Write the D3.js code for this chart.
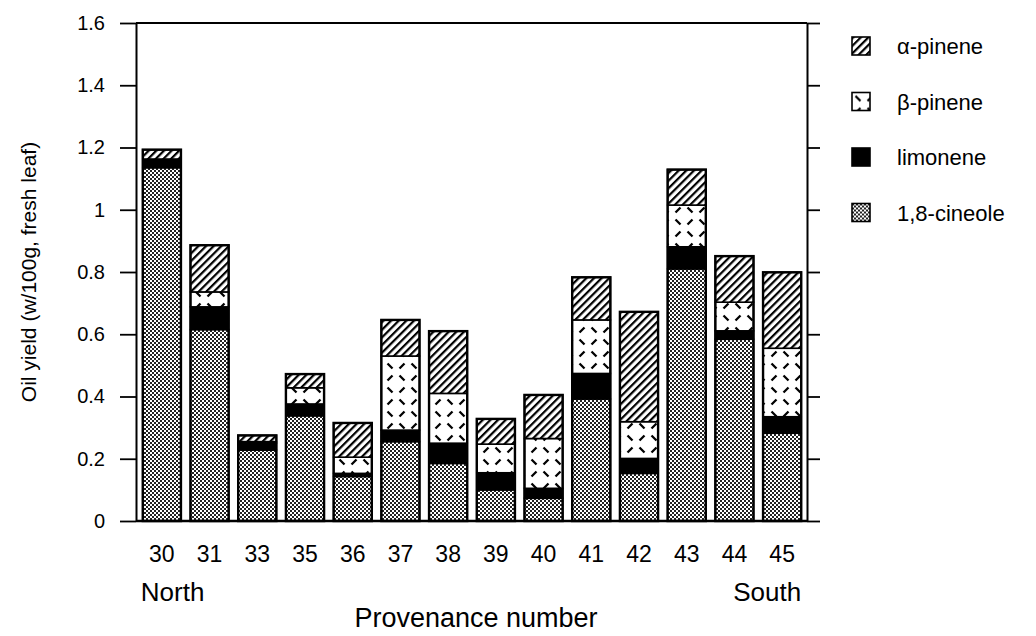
<!DOCTYPE html>
<html>
<head>
<meta charset="utf-8">
<script src="https://cdn.jsdelivr.net/npm/d3@7"></script>
<style>
  html, body { margin: 0; padding: 0; background: #fff; }
  svg { display: block; }
  text { font-family: "Liberation Sans", Arial, Helvetica, sans-serif; fill: #000; }
</style>
</head>
<body>
<svg id="chart" width="1036" height="636"></svg>
<script>
// Provenances, ordered north to south
const provenances = ["30", "31", "33", "35", "36", "37", "38", "39", "40", "41", "42", "43", "44", "45"];

// Component yields (w/100g, fresh leaf), stacked bottom to top
const cineole    = [1.135, 0.615, 0.228, 0.338, 0.143, 0.255, 0.185, 0.100, 0.073, 0.392, 0.153, 0.810, 0.584, 0.282];
const limonene   = [0.028, 0.073, 0.022, 0.038, 0.010, 0.037, 0.065, 0.055, 0.032, 0.082, 0.048, 0.071, 0.027, 0.053];
const betaPinene = [0.000, 0.048, 0.005, 0.052, 0.052, 0.238, 0.160, 0.092, 0.160, 0.172, 0.118, 0.134, 0.092, 0.220];
const alphaPinene= [0.030, 0.150, 0.020, 0.044, 0.110, 0.116, 0.200, 0.081, 0.140, 0.137, 0.353, 0.114, 0.148, 0.244];

const yTicks = [0, 0.2, 0.4, 0.6, 0.8, 1, 1.2, 1.4, 1.6];
const yTickLabels = ["0", "0.2", "0.4", "0.6", "0.8", "1", "1.2", "1.4", "1.6"];

const seriesKeys   = ["cineole", "limonene", "beta", "alpha"];
const seriesLabels = { alpha: "\u03b1-pinene", beta: "\u03b2-pinene", limonene: "limonene", cineole: "1,8-cineole" };
const legendOrder  = ["alpha", "beta", "limonene", "cineole"];

const rows = provenances.map((p, i) => ({
  prov: p,
  cineole: cineole[i],
  limonene: limonene[i],
  beta: betaPinene[i],
  alpha: alphaPinene[i]
}));

const svg = d3.select("#chart");
const plot = { left: 136, right: 807, top: 23, bottom: 521 };

const x = d3.scaleBand()
  .domain(provenances)
  .range([plot.left + 2, plot.right - 1])
  .paddingInner(0.2)
  .paddingOuter(0.1);

const y = d3.scaleLinear()
  .domain([0, 1.6])
  .range([plot.bottom, plot.top]);

// ---- fill patterns ----
const defs = svg.append("defs");

// 1,8-cineole: fine stipple
const pCin = defs.append("pattern")
  .attr("id", "pat-cineole").attr("patternUnits", "userSpaceOnUse")
  .attr("width", 4).attr("height", 4);
pCin.append("rect").attr("width", 4).attr("height", 4).attr("fill", "#fff");
pCin.append("rect").attr("x", 0).attr("y", 0).attr("width", 2).attr("height", 2).attr("fill", "#222");
pCin.append("rect").attr("x", 2).attr("y", 2).attr("width", 2).attr("height", 2).attr("fill", "#222");

// α-pinene: diagonal hatching
const pAlpha = defs.append("pattern")
  .attr("id", "pat-alpha").attr("patternUnits", "userSpaceOnUse")
  .attr("width", 5.4).attr("height", 10)
  .attr("patternTransform", "rotate(45)");
pAlpha.append("rect").attr("width", 5.4).attr("height", 10).attr("fill", "#fff");
pAlpha.append("rect").attr("x", 0).attr("width", 2.2).attr("height", 10).attr("fill", "#000");

// β-pinene: scattered short dashes in alternating directions
const pBeta = defs.append("pattern")
  .attr("id", "pat-beta").attr("patternUnits", "userSpaceOnUse")
  .attr("width", 24).attr("height", 24);
pBeta.append("rect").attr("width", 24).attr("height", 24).attr("fill", "#fff");
const dashes = [[3.5, 3.5, 8.5, 8.5], [20.5, 3.5, 15.5, 8.5], [8.5, 15.5, 3.5, 20.5], [15.5, 15.5, 20.5, 20.5]];
dashes.forEach(d => pBeta.append("line")
  .attr("x1", d[0]).attr("y1", d[1]).attr("x2", d[2]).attr("y2", d[3])
  .attr("stroke", "#000").attr("stroke-width", 2.3).attr("stroke-linecap", "butt"));

const fills = {
  cineole: "url(#pat-cineole)",
  limonene: "#000",
  beta: "url(#pat-beta)",
  alpha: "url(#pat-alpha)"
};

// ---- stacked bars ----
const stacked = d3.stack().keys(seriesKeys)(rows);

const barG = svg.append("g").attr("class", "bars");
stacked.forEach(layer => {
  barG.append("g")
    .attr("class", "layer-" + layer.key)
    .selectAll("rect")
    .data(layer.filter(d => d[1] - d[0] > 0))
    .join("rect")
    .attr("x", d => x(d.data.prov))
    .attr("y", d => y(d[1]))
    .attr("width", x.bandwidth())
    .attr("height", d => y(d[0]) - y(d[1]))
    .attr("fill", fills[layer.key])
    .attr("stroke", "#000")
    .attr("stroke-width", 1.6);
});

// outer outline of each bar
const total = d => d.cineole + d.limonene + d.beta + d.alpha;
barG.append("g").selectAll("rect")
  .data(rows)
  .join("rect")
  .attr("x", d => x(d.prov))
  .attr("y", d => y(total(d)))
  .attr("width", x.bandwidth())
  .attr("height", d => y(0) - y(total(d)))
  .attr("fill", "none")
  .attr("stroke", "#000")
  .attr("stroke-width", 2.4);

// ---- axes and frame ----
const leftAxis = d3.axisLeft(y)
  .tickValues(yTicks)
  .tickFormat((d, i) => yTickLabels[i])
  .tickSize(16)
  .tickSizeOuter(0)
  .tickPadding(15);

const gLeft = svg.append("g")
  .attr("transform", `translate(${plot.left},0)`)
  .call(leftAxis);
gLeft.select(".domain").attr("stroke-width", 2);
gLeft.selectAll(".tick line").attr("stroke-width", 1.8);
gLeft.selectAll(".tick text")
  .attr("font-size", 20)
  .attr("font-family", "Liberation Sans, Arial, sans-serif");

const rightAxis = d3.axisRight(y)
  .tickValues(yTicks)
  .tickFormat("")
  .tickSize(13)
  .tickSizeOuter(0);

const gRight = svg.append("g")
  .attr("transform", `translate(${plot.right},0)`)
  .call(rightAxis);
gRight.select(".domain").attr("stroke-width", 2);
gRight.selectAll(".tick line").attr("stroke-width", 1.8);

// top and bottom frame lines
svg.append("line")
  .attr("x1", plot.left).attr("x2", plot.right)
  .attr("y1", y(1.6)).attr("y2", y(1.6))
  .attr("stroke", "#000").attr("stroke-width", 2);
svg.append("line")
  .attr("x1", plot.left).attr("x2", plot.right)
  .attr("y1", y(0)).attr("y2", y(0))
  .attr("stroke", "#000").attr("stroke-width", 2.4);

// category labels
svg.append("g").selectAll("text")
  .data(provenances)
  .join("text")
  .attr("x", d => x(d) + x.bandwidth() / 2)
  .attr("y", 562)
  .attr("text-anchor", "middle")
  .attr("font-size", 23)
  .text(d => d);

svg.append("text")
  .attr("x", x(provenances[0]) - 2)
  .attr("y", 601)
  .attr("font-size", 26)
  .text("North");

svg.append("text")
  .attr("x", x(provenances[provenances.length - 1]) + x.bandwidth())
  .attr("y", 601)
  .attr("text-anchor", "end")
  .attr("font-size", 26)
  .text("South");

svg.append("text")
  .attr("x", 476)
  .attr("y", 627)
  .attr("text-anchor", "middle")
  .attr("font-size", 27)
  .text("Provenance number");

svg.append("text")
  .attr("transform", `translate(36,${(plot.top + plot.bottom) / 2}) rotate(-90)`)
  .attr("text-anchor", "middle")
  .attr("font-size", 21)
  .text("Oil yield (w/100g, fresh leaf)");

// ---- legend ----
const legend = svg.append("g").attr("class", "legend");
const legendItems = legend.selectAll("g")
  .data(legendOrder)
  .join("g")
  .attr("transform", (d, i) => `translate(852,${37 + i * 55.5})`);

legendItems.append("rect")
  .attr("width", 18).attr("height", 18)
  .attr("fill", d => fills[d])
  .attr("stroke", "#000")
  .attr("stroke-width", 1.6);

legendItems.append("text")
  .attr("x", 45)
  .attr("y", 17)
  .attr("font-size", 22)
  .text(d => seriesLabels[d]);
</script>
</body>
</html>
